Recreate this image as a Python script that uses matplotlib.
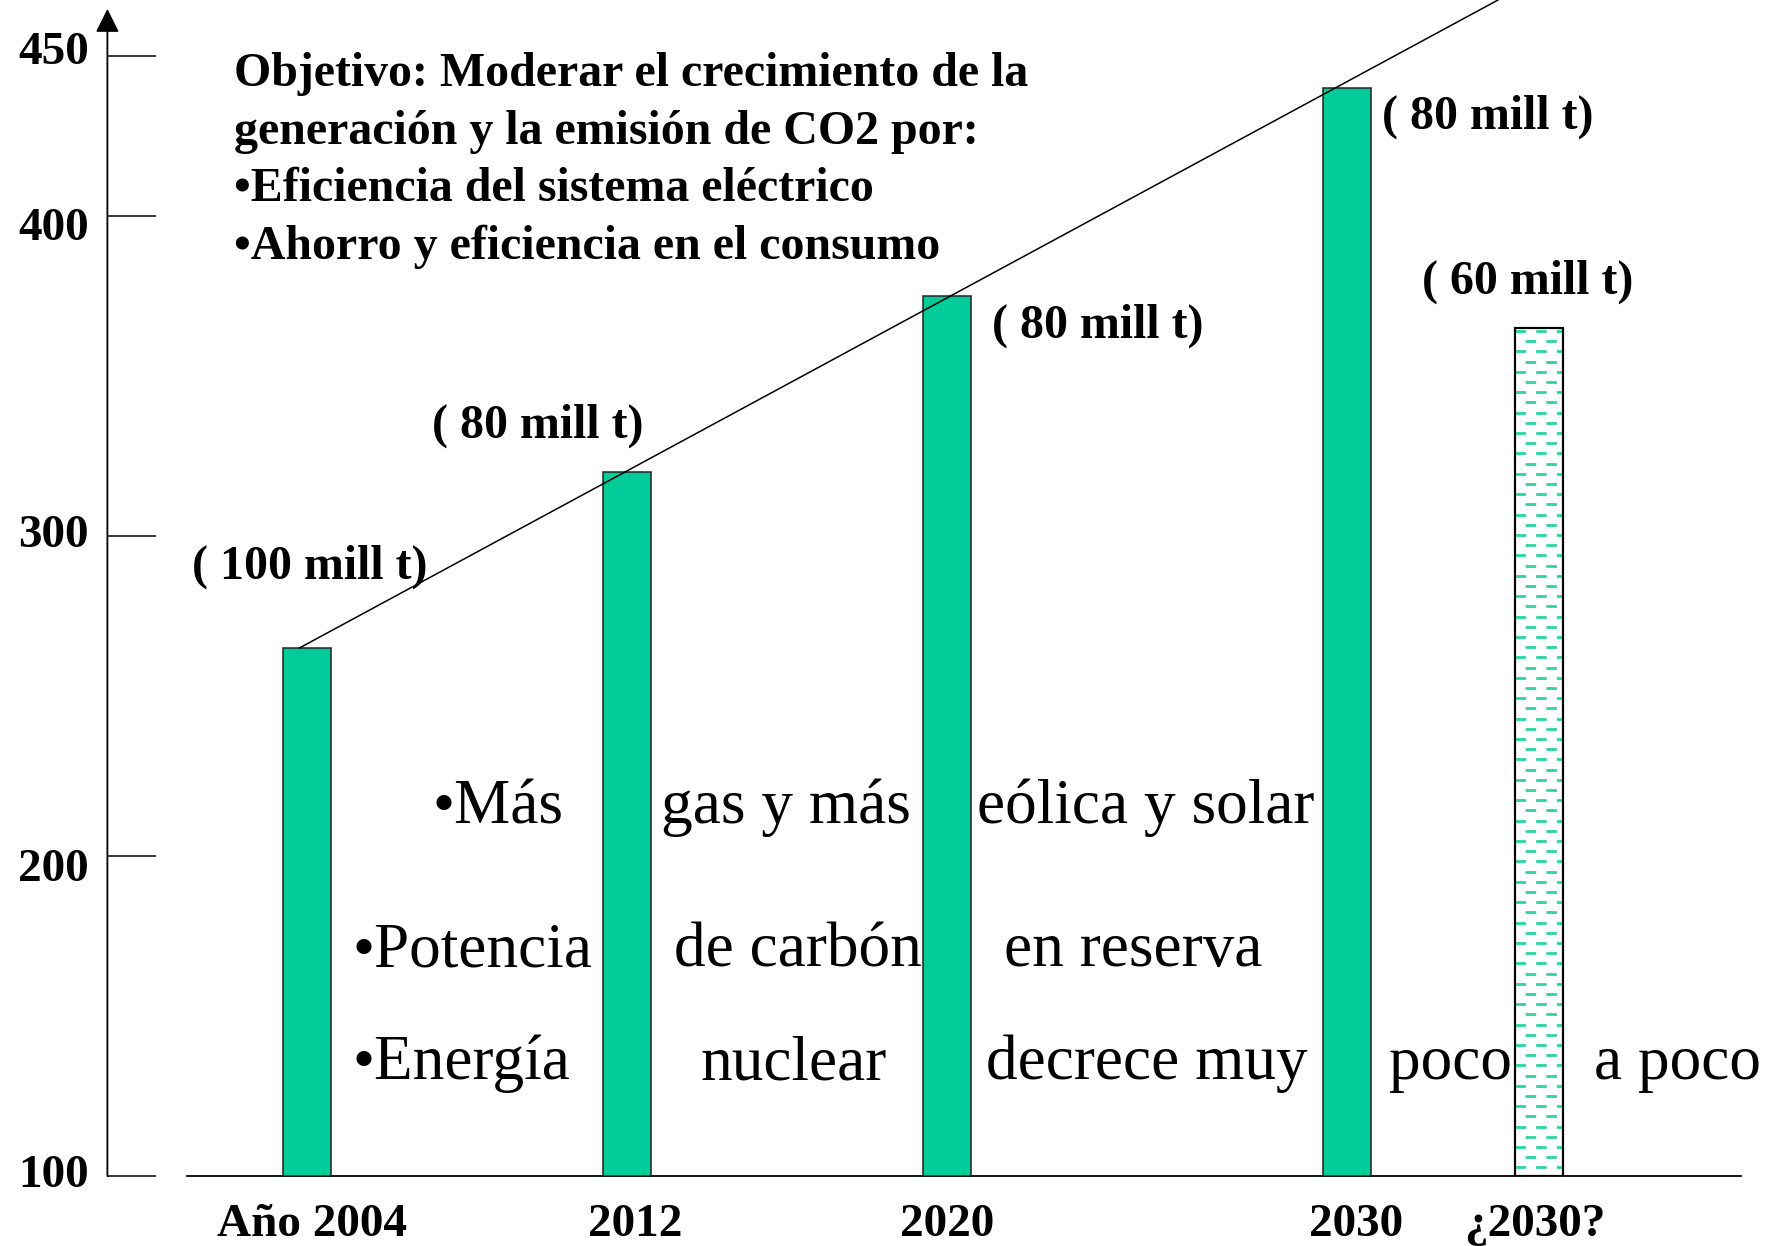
import numpy as np
import matplotlib
matplotlib.use("Agg")
import matplotlib.pyplot as plt
from matplotlib.transforms import ScaledTranslation

plt.rcParams['font.family'] = ['Liberation Serif', 'DejaVu Serif']
plt.rcParams['lines.scale_dashes'] = False

# ---------------- data ----------------
categories = ["Año 2004", "2012", "2020", "2030", "¿2030?"]
bar_years = [2004, 2012, 2020, 2030, 2034.8]       # horizontal position (years scale)
bar_values = [265, 320, 375, 440, 365]
bar_labels = ["( 100 mill t)", "( 80 mill t)", "( 80 mill t)", "( 80 mill t)", "( 60 mill t)"]
ytick_values = [100, 200, 300, 400, 450]
ytick_labels = ["100", "200", "300", "400", "450"]
trend_years = [2003.8, 2029.4]
trend_values = [265, 438]

title_lines = [
    "Objetivo: Moderar el crecimiento de la",
    "generación y la emisión de CO2 por:",
    "•Eficiencia del sistema eléctrico",
    "•Ahorro y eficiencia en el consumo",
]
body_words = [
    ["•Más", "gas y más", "eólica y solar"],
    ["•Potencia", "de carbón", "en reserva"],
    ["•Energía", "nuclear", "decrece muy", "poco", "a poco"],
]

# ---------------- layout ----------------
W, H, DPI = 1773, 1246, 100
GREEN = "#00CC99"
HATCH_GREEN = "#2DD3A3"
bar_width = 1.2
xlim = (1999, 2040)
ylim = (100, 467.5)

label_pos = [(2001.11, 286.6), (2007.11, 330.9), (2021.11, 361.9),
             (2030.86, 427.2), (2031.86, 375.9)]
title_x = 2002.16
title_base = [440.6, 422.5, 404.7, 386.6]
body_rows_y = [210.3, 165.6, 130.3]
body_x = [
    [2007.14, 2012.84, 2020.74],
    [2005.14, 2013.16, 2021.41],
    [2005.14, 2013.84, 2020.96, 2031.04, 2036.16],
]
ylabel_dy_px = [5, -9, 5, -8, 8]      # small vertical nudges of y tick labels
xlabel_dx_px = [4.5, 8, 0, 9, -4.5]   # small horizontal nudges of x tick labels

fig = plt.figure(figsize=(W / DPI, H / DPI), dpi=DPI)
ax = fig.add_axes([107.4 / W, 70 / H, 1640 / W, 1176 / H])
ax.set_xlim(*xlim)
ax.set_ylim(*ylim)

# bars
heights = [v - ylim[0] for v in bar_values]
bars = ax.bar(bar_years[:4], heights[:4], width=bar_width, bottom=ylim[0],
              color=GREEN, edgecolor="#222222", linewidth=1.1, zorder=3)
hb = ax.bar(bar_years[4:], heights[4:], width=bar_width, bottom=ylim[0],
            color="white", edgecolor="black", linewidth=1.5, zorder=3)[0]

# dashed fill pattern for the uncertain bar
bx0 = bar_years[4] - bar_width / 2
bx1 = bar_years[4] + bar_width / 2
row_step = 10.2 / 3.2  # data units per pattern row
rows = np.arange(bar_values[4] - row_step * 0.3, ylim[0], -row_step)
dash = (7.6, 7.3)
for i, yy in enumerate(rows):
    off = 0 if i % 2 == 0 else 7.6
    lc = ax.hlines(yy, bx0, bx1, colors=HATCH_GREEN, linewidth=2.0,
                   linestyles=[(off, dash)], zorder=3.5)
    lc.set_clip_path(hb)
ax.add_patch(plt.Rectangle((bx0, ylim[0]), bar_width, heights[4], fill=False,
                           edgecolor="black", linewidth=1.5, zorder=4))

# trend line through the bar tops, extended to the top edge
slope = (trend_values[1] - trend_values[0]) / (trend_years[1] - trend_years[0])
x_end = trend_years[1] + (ylim[1] - trend_values[1]) / slope
ax.plot([trend_years[0], x_end], [trend_values[0], ylim[1]], color="black",
        linewidth=1.1, clip_on=False, zorder=5)

# axes styling
for s in ["top", "right", "left"]:
    ax.spines[s].set_visible(False)
ax.spines["bottom"].set_bounds(2001, 2039.85)
ax.spines["bottom"].set_linewidth(1.3)
ax.annotate("", xy=(0, 0.9924), xytext=(0, 0), xycoords="axes fraction",
            arrowprops=dict(arrowstyle="-|>,head_length=0.4,head_width=0.2",
                            mutation_scale=36, shrinkA=0, shrinkB=0,
                            color="black", linewidth=1.3))

ax.set_yticks(ytick_values)
ax.set_yticklabels(ytick_labels, fontsize=34, fontweight="bold")
ax.tick_params(axis="y", direction="in", length=35.3, width=1.1, pad=13.5)
ax.set_xticks(bar_years)
ax.set_xticklabels(categories, fontsize=34, fontweight="bold")
ax.tick_params(axis="x", length=0, pad=20)

for lab, dy in zip(ax.get_yticklabels(), ylabel_dy_px):
    lab.set_transform(lab.get_transform() +
                      ScaledTranslation(0, dy / DPI, fig.dpi_scale_trans))
for lab, dx in zip(ax.get_xticklabels(), xlabel_dx_px):
    lab.set_transform(lab.get_transform() +
                      ScaledTranslation(dx / DPI, 0, fig.dpi_scale_trans))

# value annotations
for (lx, ly), txt in zip(label_pos, bar_labels):
    ax.text(lx, ly, txt, fontsize=34.5, fontweight="bold", ha="left",
            va="baseline", clip_on=False, zorder=6)

# title block
for line, yb in zip(title_lines, title_base):
    ax.text(title_x, yb, line, fontsize=34.5, fontweight="bold", ha="left",
            va="baseline", clip_on=False, zorder=6)

# body words
for words, xs, yb in zip(body_words, body_x, body_rows_y):
    for w, xx in zip(words, xs):
        ax.text(xx, yb, w, fontsize=45.5, ha="left", va="baseline",
                clip_on=False, zorder=6)

fig.savefig("out.png", dpi=DPI)
